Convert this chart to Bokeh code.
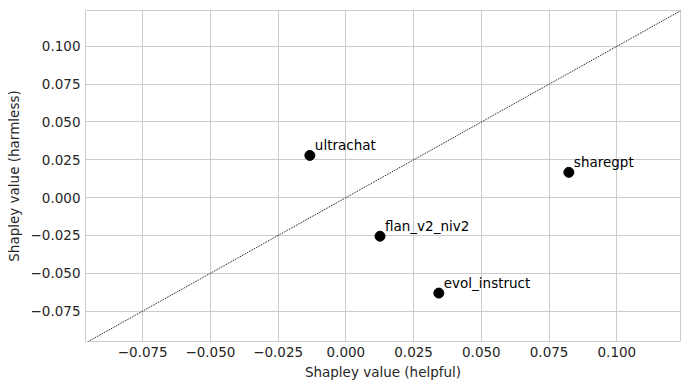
from bokeh.plotting import figure
from bokeh.models import ColumnDataSource, Range1d, FixedTicker, CustomJSTickFormatter, Slope
from bokeh.core.properties import value
from bokeh.embed import file_html
from bokeh.resources import INLINE

names = ["ultrachat", "sharegpt", "flan_v2_niv2", "evol_instruct"]
helpful = [-0.0133, 0.0823, 0.0126, 0.0343]
harmless = [0.0279, 0.0167, -0.0255, -0.0631]
ticks = [-0.075, -0.05, -0.025, 0.0, 0.025, 0.05, 0.075, 0.1]
x_lim = (-0.0961, 0.1235)
y_lim = (-0.0951, 0.1237)

FONT = "DejaVu Sans"
TXT = "#262626"
GRID = "#cccccc"

src = ColumnDataSource(dict(x=helpful, y=harmless, name=names))

p = figure(width=690, height=390, output_backend="svg", toolbar_location=None,
           x_range=Range1d(*x_lim), y_range=Range1d(*y_lim),
           min_border_left=85, min_border_right=10, min_border_top=10, min_border_bottom=49)
p.background_fill_color = "white"
p.border_fill_color = "white"
p.outline_line_color = GRID
p.outline_line_width = 1

fmt = CustomJSTickFormatter(code="return (tick < -1e-12 ? '\u2212' : '') + Math.abs(tick).toFixed(3);")
for ax in (p.xaxis[0], p.yaxis[0]):
    ax.ticker = FixedTicker(ticks=ticks)
    ax.formatter = fmt
    ax.axis_line_color = None
    ax.major_tick_line_color = None
    ax.minor_tick_line_color = None
    ax.major_tick_out = 0
    ax.major_tick_in = 0
    ax.minor_tick_out = 0
    ax.minor_tick_in = 0
    ax.major_label_text_font = FONT
    ax.major_label_text_font_size = "13.5px"
    ax.major_label_text_color = TXT
    ax.axis_label_text_font = FONT
    ax.axis_label_text_font_size = "13.5px"
    ax.axis_label_text_color = TXT
    ax.axis_label_text_font_style = "normal"
    ax.major_label_standoff = 5

p.xaxis.axis_label = "Shapley value (helpful)"
p.yaxis.axis_label = "Shapley value (harmless)"
p.xaxis.axis_label_standoff = 4
p.yaxis.axis_label_standoff = 6

p.grid.grid_line_color = GRID
p.grid.grid_line_width = 1

p.add_layout(Slope(gradient=1, y_intercept=0, line_color="black", line_width=1, line_dash="1 1"))

p.scatter("x", "y", source=src, size=10, color="black")
p.text("x", "y", text="name", source=src, x_offset=5, y_offset=-10,
       text_font=value(FONT), text_font_size="13.5px", text_color="black",
       text_baseline="alphabetic", text_align="left")

open("out.html", "w").write(file_html(p, INLINE))
